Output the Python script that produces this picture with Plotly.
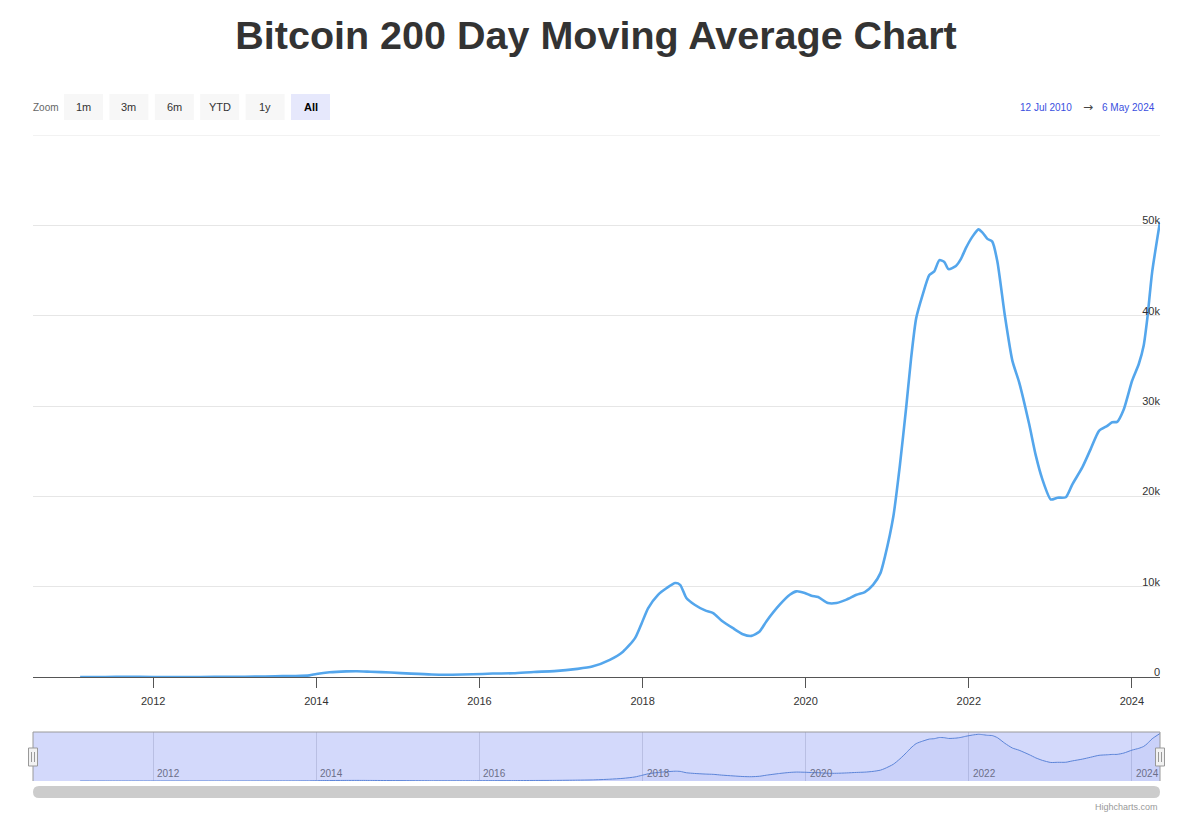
import plotly.graph_objects as go

# ---------------- data ----------------
dates = ['2011-02-08', '2011-06-01', '2011-09-01', '2012-01-01', '2012-06-01', '2012-10-01',
         '2013-01-01', '2013-04-01', '2013-07-01', '2013-10-01', '2013-12-01', '2014-01-01',
         '2014-03-01', '2014-05-15', '2014-07-01', '2014-09-01', '2014-12-01', '2015-03-01',
         '2015-06-01', '2015-09-01', '2015-12-01', '2016-03-01', '2016-06-01', '2016-09-01',
         '2016-12-01', '2017-03-15', '2017-05-20', '2017-08-07', '2017-10-05', '2017-11-28',
         '2017-12-28', '2018-01-26', '2018-03-11', '2018-04-19', '2018-05-27', '2018-06-18',
         '2018-07-16', '2018-08-22', '2018-10-08', '2018-11-13', '2018-12-20', '2019-02-10',
         '2019-03-26', '2019-05-03', '2019-06-09', '2019-07-09', '2019-09-07', '2019-10-22',
         '2019-11-21', '2019-12-28', '2020-01-27', '2020-02-26', '2020-04-10', '2020-05-18',
         '2020-07-02', '2020-08-16', '2020-09-22', '2020-10-29', '2020-12-01', '2020-12-21',
         '2021-01-28', '2021-02-26', '2021-03-27', '2021-04-17', '2021-05-10', '2021-06-08',
         '2021-07-08', '2021-07-30', '2021-08-22', '2021-09-13', '2021-10-02', '2021-11-04',
         '2021-11-26', '2021-12-18', '2022-01-17', '2022-02-13', '2022-03-03', '2022-03-25',
         '2022-04-16', '2022-05-09', '2022-06-11', '2022-07-15', '2022-08-14', '2022-09-28',
         '2022-10-28', '2022-11-26', '2023-01-03', '2023-02-02', '2023-03-11', '2023-04-09',
         '2023-05-24', '2023-06-30', '2023-08-07', '2023-09-13', '2023-10-05', '2023-10-27',
         '2023-11-26', '2024-01-02', '2024-02-01', '2024-02-23', '2024-03-10', '2024-04-01',
         '2024-05-06']
ma200 = [0.5, 6, 12, 7, 5.5, 9,
         11, 40, 85, 110, 180, 330,
         520, 620, 640, 580, 490, 370,
         270, 250, 300, 380, 420, 560,
         650, 900, 1150, 1900, 2800, 4300,
         5960, 7630, 9100, 9850, 10400, 10200,
         8750, 8000, 7370, 7080, 6260, 5400,
         4740, 4550, 5040, 6150, 8000, 9100,
         9480, 9300, 9000, 8850, 8190, 8190,
         8560, 9100, 9400, 10200, 11500, 13300,
         17800, 23400, 30000, 35200, 39700, 42300,
         44500, 44900, 46150, 45950, 45150, 45500,
         46250, 47450, 48750, 49550, 49200, 48500,
         48200, 45950, 40050, 35000, 32650, 28000,
         24500, 21900, 19650, 19850, 19900, 21300,
         23200, 25200, 27250, 27800, 28200, 28250,
         29650, 32800, 34650, 36700, 39650, 44850,
         50400]

range_start = '2010-07-12'
range_end = '2024-05-06'
range_start_label = '12 Jul 2010'
range_end_label = '6 May 2024'
year_ticks = ['2012-01-01', '2014-01-01', '2016-01-01', '2018-01-01',
              '2020-01-01', '2022-01-01', '2024-01-01']
year_labels = ['2012', '2014', '2016', '2018', '2020', '2022', '2024']
y_ticks = [0, 10000, 20000, 30000, 40000, 50000, 60000]
y_labels = ['0', '10k', '20k', '30k', '40k', '50k', '']
y_max = 60000
zoom_buttons = ['1m', '3m', '6m', 'YTD', '1y', 'All']
active_button = 'All'
title = 'Bitcoin 200 Day Moving Average Chart'

# ---------------- layout helpers ----------------
W, H = 1200, 831
OFF = 8  # page body margin
FONT = 'Liberation Sans, Arial, sans-serif'


def fx(p):
    return (p - OFF) / W


def fy(p):
    return 1 - (p - OFF) / H


LEFT, RIGHT = 33, 1160
MAIN_TOP, MAIN_BOT = 135, 677
NAV_TOP, NAV_BOT = 732, 781
LINE_COLOR = '#54a6ec'

fig = go.Figure()

fig.add_trace(go.Scatter(
    x=dates, y=ma200, mode='lines',
    line=dict(color=LINE_COLOR, width=2.6, shape='spline', smoothing=0.6),
    xaxis='x', yaxis='y', hoverinfo='x+y', showlegend=False))

fig.add_trace(go.Scatter(
    x=dates, y=ma200, mode='lines',
    line=dict(color='#5b84d8', width=1, shape='spline', smoothing=0.6),
    fill='tozeroy', fillcolor='rgba(90,120,220,0.07)',
    xaxis='x2', yaxis='y2', hoverinfo='skip', showlegend=False))

shapes = []
annotations = []

# top gridline (last tick, unlabeled)
shapes.append(dict(type='line', xref='x domain', yref='y', x0=0, x1=1, y0=y_max, y1=y_max,
                   line=dict(color='#e6e6e6', width=1), layer='below'))

# navigator mask
shapes.append(dict(type='rect', xref='x2 domain', yref='y2 domain', x0=0, x1=1, y0=0, y1=1,
                   fillcolor='#d3d9fb', line=dict(width=0), layer='below'))
# navigator outline (top + sides)
shapes.append(dict(type='path', xref='paper', yref='paper',
                   path=f'M {fx(LEFT)} {fy(NAV_BOT)} L {fx(LEFT)} {fy(NAV_TOP)} '
                        f'L {fx(RIGHT)} {fy(NAV_TOP)} L {fx(RIGHT)} {fy(NAV_BOT)}',
                   line=dict(color='#9a9a9a', width=1)))
# navigator handles
for hx in (LEFT, RIGHT):
    shapes.append(dict(type='rect', xref='paper', yref='paper',
                       x0=fx(hx - 4.5), x1=fx(hx + 4.5), y0=fy(766), y1=fy(748),
                       fillcolor='#f2f2f2', line=dict(color='#999999', width=1)))
    for dx in (-1.5, 1.5):
        shapes.append(dict(type='line', xref='paper', yref='paper',
                           x0=fx(hx + dx), x1=fx(hx + dx), y0=fy(762), y1=fy(752),
                           line=dict(color='#999999', width=1)))

# scrollbar (rounded)
sb_t, sb_b, r = 786, 798, 6
x0s, x1s = LEFT, RIGHT
path = (f'M {fx(x0s + r)} {fy(sb_t)} L {fx(x1s - r)} {fy(sb_t)} '
        f'Q {fx(x1s)} {fy(sb_t)} {fx(x1s)} {fy(sb_t + r)} '
        f'Q {fx(x1s)} {fy(sb_b)} {fx(x1s - r)} {fy(sb_b)} '
        f'L {fx(x0s + r)} {fy(sb_b)} '
        f'Q {fx(x0s)} {fy(sb_b)} {fx(x0s)} {fy(sb_t + r)} '
        f'Q {fx(x0s)} {fy(sb_t)} {fx(x0s + r)} {fy(sb_t)} Z')
shapes.append(dict(type='path', xref='paper', yref='paper', path=path,
                   fillcolor='#cccccc', line=dict(width=0)))

# navigator year labels
for d, lab in zip(year_ticks, year_labels):
    annotations.append(dict(x=d, xref='x2', y=fy(773), yref='paper', text=lab,
                            showarrow=False, xanchor='left', yanchor='middle', xshift=2,
                            font=dict(family=FONT, size=10, color='#6c6f88')))

# zoom buttons
annotations.append(dict(x=fx(LEFT), y=fy(107), xref='paper', yref='paper', text='Zoom',
                        showarrow=False, xanchor='left', yanchor='middle', xshift=-2,
                        font=dict(family=FONT, size=10, color='#666666')))
bx, bw, gap = 64, 39, 6.4
for i, lab in enumerate(zoom_buttons):
    x0 = bx + i * (bw + gap)
    active = lab == active_button
    shapes.append(dict(type='rect', xref='paper', yref='paper',
                       x0=fx(x0), x1=fx(x0 + bw), y0=fy(120), y1=fy(94),
                       fillcolor='#e6e8fc' if active else '#f7f7f7', line=dict(width=0)))
    annotations.append(dict(x=fx(x0 + bw / 2), y=fy(107), xref='paper', yref='paper',
                            text=f'<b>{lab}</b>' if active else lab, showarrow=False,
                            xanchor='center', yanchor='middle',
                            font=dict(family=FONT, size=11, color='#000000' if active else '#333333')))

# date range inputs
annotations.append(dict(x=fx(1074), y=fy(107), xref='paper', yref='paper', text=range_start_label,
                        showarrow=False, xanchor='right', yanchor='middle',
                        font=dict(family=FONT, size=10, color='#3a4fe0')))
annotations.append(dict(x=fx(1088), y=fy(107), xref='paper', yref='paper', text='→',
                        showarrow=False, xanchor='center', yanchor='middle',
                        font=dict(family='DejaVu Sans, sans-serif', size=12, color='#444444')))
annotations.append(dict(x=fx(1157), y=fy(107), xref='paper', yref='paper', text=range_end_label,
                        showarrow=False, xanchor='right', yanchor='middle',
                        font=dict(family=FONT, size=10, color='#3a4fe0')))

# credits
annotations.append(dict(x=fx(RIGHT), y=fy(807), xref='paper', yref='paper', text='Highcharts.com',
                        showarrow=False, xanchor='right', yanchor='middle',
                        font=dict(family=FONT, size=9, color='#999999')))

fig.update_layout(
    width=W, height=H, autosize=False,
    margin=dict(l=0, r=0, t=0, b=0),
    paper_bgcolor='white', plot_bgcolor='rgba(0,0,0,0)',
    title=dict(text=f'<b>{title}</b>', x=fx(596), xanchor='center',
               y=fy(35), yanchor='middle', xref='paper', yref='paper',
               font=dict(family=FONT, size=39.5, color='#333333')),
    showlegend=False,
    xaxis=dict(domain=[fx(LEFT), fx(RIGHT)], anchor='y', type='date',
               range=[range_start, range_end],
               tickvals=year_ticks, ticktext=year_labels,
               ticks='outside', ticklen=10, tickcolor='#555555', tickwidth=1,
               ticklabelstandoff=4,
               showline=True, linecolor='#555555', linewidth=1,
               showgrid=False, zeroline=False,
               tickfont=dict(family=FONT, size=11, color='#333333')),
    yaxis=dict(domain=[fy(MAIN_BOT), fy(MAIN_TOP)], anchor='x', side='right',
               range=[0, y_max], tickvals=y_ticks, ticktext=y_labels,
               ticklabelposition='inside top', ticks='',
               ticklabelstandoff=-3, ticklabelshift=3, ticklabeloverflow='allow',
               showgrid=True, gridcolor='#e6e6e6', gridwidth=1,
               zeroline=False, showline=False,
               tickfont=dict(family=FONT, size=11, color='#333333')),
    xaxis2=dict(domain=[fx(LEFT), fx(RIGHT)], anchor='y2', type='date',
                range=[range_start, range_end], tickvals=year_ticks,
                showticklabels=False, ticks='', showgrid=True,
                gridcolor='#b9bfe3', gridwidth=1, zeroline=False, showline=False),
    yaxis2=dict(domain=[fy(NAV_BOT), fy(NAV_TOP)], anchor='x2',
                range=[0, 52000], visible=False, showgrid=False, zeroline=False),
    shapes=shapes,
    annotations=annotations,
)

fig.write_html('out.html')
